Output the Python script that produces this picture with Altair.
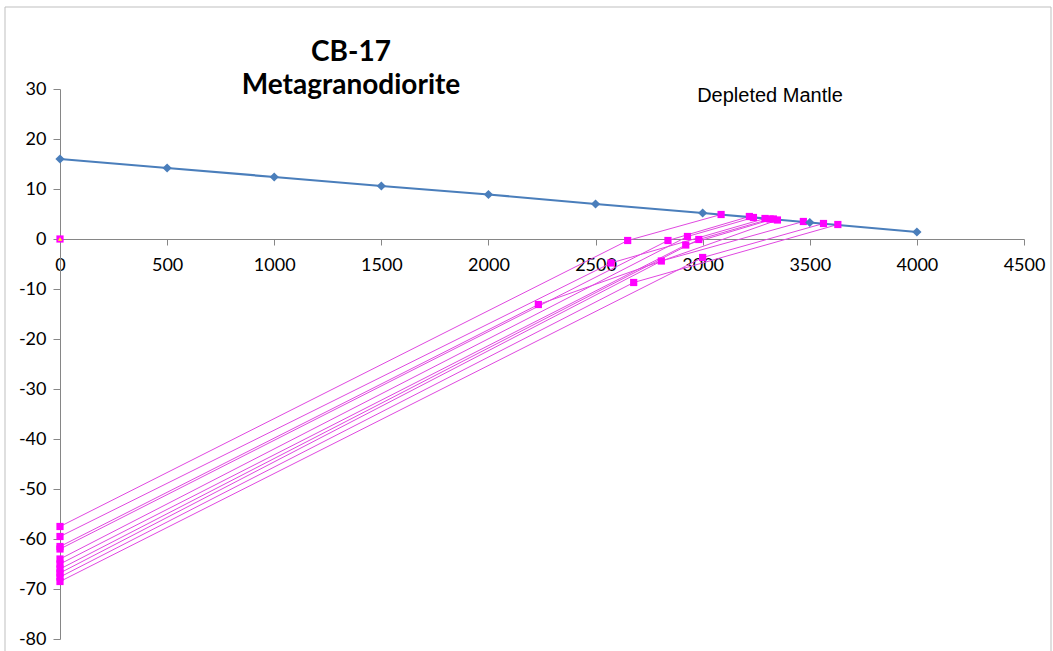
import altair as alt
import pandas as pd

# Depleted mantle evolution curve (age in Ma, epsilon)
dm_age = [0, 500, 1000, 1500, 2000, 2500, 3000, 3500, 4000]
dm_eps = [16.0, 14.2, 12.4, 10.6, 8.9, 7.0, 5.2, 3.3, 1.4]

# CB-17 samples: present-day value, value at crystallization age, model age on the DM curve
present_eps = [-57.5, -59.5, -61.5, -62.0, -64.0, -65.0, -66.0, -66.8, -67.6, -68.5]
cryst_age = [2650, 2572, 2233, 2838, 2929, 2921, 2982, 2807, 2678, 3000]
cryst_eps = [-0.3, -4.8, -13.1, -0.3, 0.5, -1.2, -0.1, -4.4, -8.7, -3.7]
tdm_age = [3086, 3291, 3349, 3218, 3237, 3330, 3315, 3470, 3631, 3564]
tdm_eps = [4.9, 4.1, 3.8, 4.5, 4.3, 4.0, 4.0, 3.5, 2.9, 3.1]

# Reference point at the origin
origin_age = [0]
origin_eps = [0]

W, H = 964, 550

dm = pd.DataFrame({"age": dm_age, "eps": dm_eps})

rows = []
for i in range(len(present_eps)):
    rows.append({"sample": i, "step": 0, "age": 0, "eps": present_eps[i]})
    rows.append({"sample": i, "step": 1, "age": cryst_age[i], "eps": cryst_eps[i]})
    rows.append({"sample": i, "step": 2, "age": tdm_age[i], "eps": tdm_eps[i]})
cb = pd.DataFrame(rows)
orig = pd.DataFrame({"age": origin_age, "eps": origin_eps})

x_scale = alt.Scale(domain=[0, 4500], nice=False)
y_scale = alt.Scale(domain=[-80, 30], nice=False)

# plain hyphen-minus in tick labels
plain = "'' + datum.value"

x_enc = alt.X(
    "age:Q", scale=x_scale, title=None,
    axis=alt.Axis(values=list(range(0, 4501, 500)), labelExpr=plain, offset=-400, grid=False,
                  tickSize=6, labelPadding=11, labelFlush=False, labelOverlap=False),
)
y_enc = alt.Y(
    "eps:Q", scale=y_scale, title=None,
    axis=alt.Axis(values=list(range(-80, 31, 10)), labelExpr=plain, grid=False,
                  tickSize=7, labelPadding=7, labelFlush=False, labelOverlap=False),
)

border = alt.Chart(orig).mark_rect(
    fill=None, stroke="#BFBFBF", strokeWidth=1, clip=False
).encode(x=alt.value(-55), x2=alt.value(W + 27), y=alt.value(-82), y2=alt.value(H + 40))

cb_lines = alt.Chart(cb).mark_line(color="#E048E0", strokeWidth=1).encode(
    x=x_enc, y=y_enc, detail="sample:N", order="step:Q"
)
cb_pts = alt.Chart(cb).mark_square(color="#FF00FF", opacity=1, size=52).encode(
    x="age:Q", y="eps:Q"
)

dm_line = alt.Chart(dm).mark_line(color="#4A7EBB", strokeWidth=2.2).encode(x="age:Q", y="eps:Q")
dm_pts = alt.Chart(dm).mark_point(
    shape="diamond", filled=True, color="#4A7EBB", opacity=1, size=85
).encode(x="age:Q", y="eps:Q")

orig_sq = alt.Chart(orig).mark_square(color="#FF00FF", opacity=1, size=52).encode(x="age:Q", y="eps:Q")
orig_tri = alt.Chart(orig).mark_point(
    shape="triangle-up", filled=True, color="#FFFF00", opacity=1, size=18
).encode(x="age:Q", y="eps:Q")

title1 = alt.Chart(orig).mark_text(
    text="CB-17", font="Lato", fontWeight="bold", fontSize=28, color="#000000", align="center"
).encode(x=alt.value(291), y=alt.value(-36))
title2 = alt.Chart(orig).mark_text(
    text="Metagranodiorite", font="Lato", fontWeight="bold", fontSize=28, color="#000000", align="center"
).encode(x=alt.value(291), y=alt.value(-3))
dm_label = alt.Chart(orig).mark_text(
    text="Depleted Mantle", font="Liberation Sans", fontSize=20, color="#000000", align="center"
).encode(x=alt.value(710), y=alt.value(7))

chart = alt.layer(
    border, cb_lines, dm_line, cb_pts, dm_pts, orig_sq, orig_tri, title1, title2, dm_label
).properties(
    width=W, height=H,
    autosize=alt.AutoSizeParams(type="none"),
    padding={"left": 60, "top": 89, "right": 29, "bottom": 12},
    background="#FFFFFF",
).configure_view(
    stroke=None
).configure_axis(
    domainColor="#868686", tickColor="#868686", labelColor="#000000",
    labelFont="Lato", labelFontSize=18, domainWidth=1, tickWidth=1,
)

chart.save("out.html", embed_options={"renderer": "svg", "actions": False})
